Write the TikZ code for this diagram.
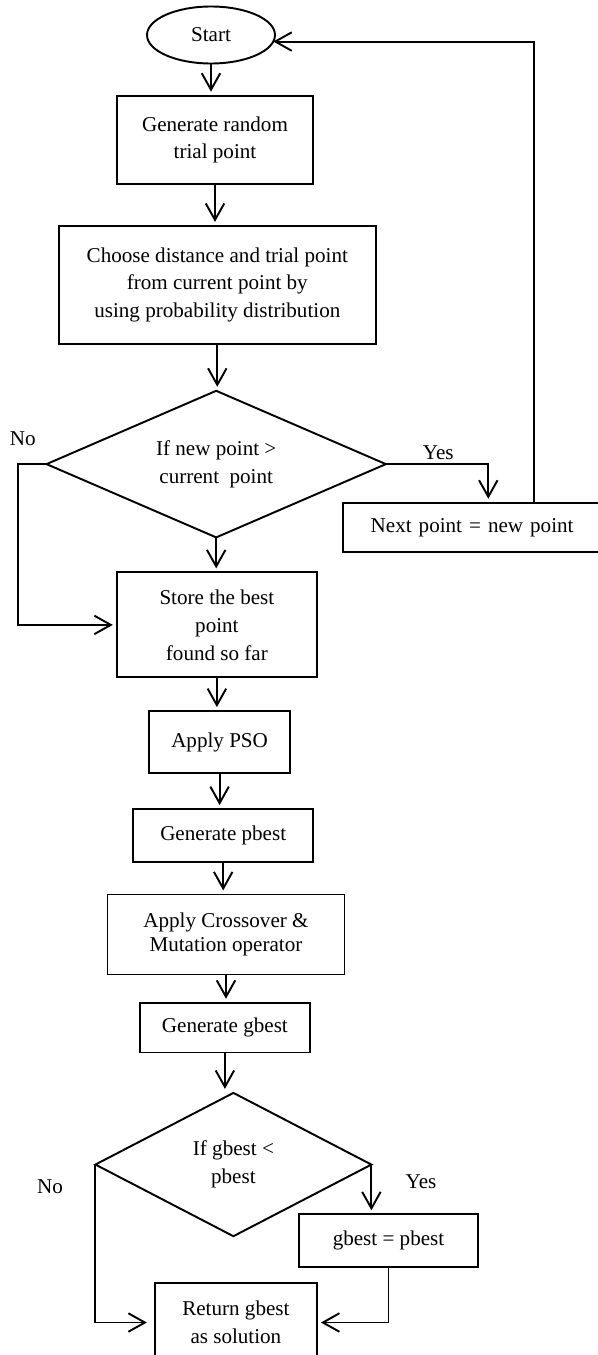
\documentclass[tikz,border=0pt]{standalone}
\usepackage{fontspec}
\setmainfont{Liberation Serif}
\usetikzlibrary{positioning, arrows.meta, shapes.geometric, calc}

\begin{document}
\begin{tikzpicture}[
    box/.style={draw, line width=1.1pt, outer sep=0pt, inner sep=0pt, align=center,
                font=\fontsize{12}{15.9}\selectfont},
    term/.style={box, ellipse},
    decision/.style={box, diamond},
    arr/.style={-{Straight Barb[length=3.3mm, width=3.7mm]}, line width=1.1pt, shorten >=0.8mm},
    lbl/.style={font=\fontsize{12}{15.9}\selectfont}
]
\useasboundingbox (0,0) rectangle (119.4mm,-271mm);

\node[term, minimum width=25.6mm, minimum height=11.4mm] (start) at (42.2mm,-7mm) {Start};
\node[box, minimum width=39.3mm, minimum height=17.7mm, below=6.44mm of start, xshift=0.8mm] (gen) {Generate random\\trial point};
\node[box, minimum width=63.4mm, minimum height=23.6mm, below=8.34mm of gen, xshift=0.46mm] (choose) {Choose distance and trial point\\from current point by\\using probability distribution};
\node[decision, aspect=2.31, minimum width=67.86mm, minimum height=29.32mm, below=9.38mm of choose, xshift=-0.22mm] (dec1) {If new point >\\current~\ point};
\node[box, minimum width=40.04mm, minimum height=21mm, below=7mm of dec1, xshift=0.14mm] (store) {Store the best\\point\\found so far};
\node[box, minimum width=28.18mm, minimum height=12.34mm, below=6.74mm of store, xshift=0.54mm] (pso) {Apply PSO};
\node[box, minimum width=36mm, minimum height=10.54mm, below=7.26mm of pso, xshift=0.72mm] (pbest) {Generate pbest};
\node[box, line width=0.7pt, font=\fontsize{12}{14}\selectfont, minimum width=47.38mm, minimum height=16mm, below=6.52mm of pbest, xshift=0.56mm] (cross) {Apply Crossover \&\\Mutation operator};
\node[box, minimum width=34.12mm, minimum height=9.94mm, below=5.68mm of cross, xshift=-0.22mm] (gbest) {Generate gbest};
\node[decision, aspect=1.93, minimum width=55.2mm, minimum height=28.66mm, below=8.08mm of gbest, xshift=1.7mm] (dec2) {If gbest <\\pbest};
\node[box, minimum width=32.42mm, minimum height=15.84mm, below=9.34mm of dec2, xshift=0.5mm] (ret) {Return gbest\\as solution};

\node[box, anchor=west, text width=46mm, align=left, inner xsep=5.48mm, minimum height=9.92mm] (next) at (68.66mm,-105.5mm) {Next point = new point};
\node[box, minimum width=35.68mm, minimum height=10.48mm] (eqbox) at (77.7mm,-248.1mm) {gbest = pbest};

\node[lbl] (yes1) at (87.66mm,-90.46mm) {Yes};
\node[lbl] (no1) at (4.54mm,-87.8mm) {No};
\node[lbl] (yes2) at (84.2mm,-236.34mm) {Yes};
\node[lbl] (no2) at (10mm,-237.34mm) {No};

\draw[arr] (start) -- (start |- gen.north);
\draw[arr] (gen) -- (gen |- choose.north);
\draw[arr] (choose) -- (choose |- dec1.north);
\draw[arr] (dec1) -- (dec1 |- store.north);
\draw[arr] (store) -- (store |- pso.north);
\draw[arr] (pso) -- (pso |- pbest.north);
\draw[arr] (pbest) -- (pbest |- cross.north);
\draw[arr] (cross) -- (cross |- gbest.north);
\draw[arr] (gbest) -- (gbest |- dec2.north);

% first decision
\coordinate (yesend) at ([xshift=29mm]next.north west);
\draw[arr] (dec1.east) -| (yesend);
\draw[arr] (dec1.west) -- ++(-5.68mm,0) |- (store.west);

% back to start
\coordinate (fbk) at ([xshift=38.14mm]next.north west);
\draw[arr, shorten >=0pt] (fbk) |- (start.-6);

% second decision
\draw[arr] (dec2.east) -- (dec2.east |- eqbox.north);
\draw[arr, shorten >=1.6mm] (dec2.west) |- (ret.west);
\draw[arr] (eqbox.south) |- (ret.east);

\end{tikzpicture}
\end{document}
